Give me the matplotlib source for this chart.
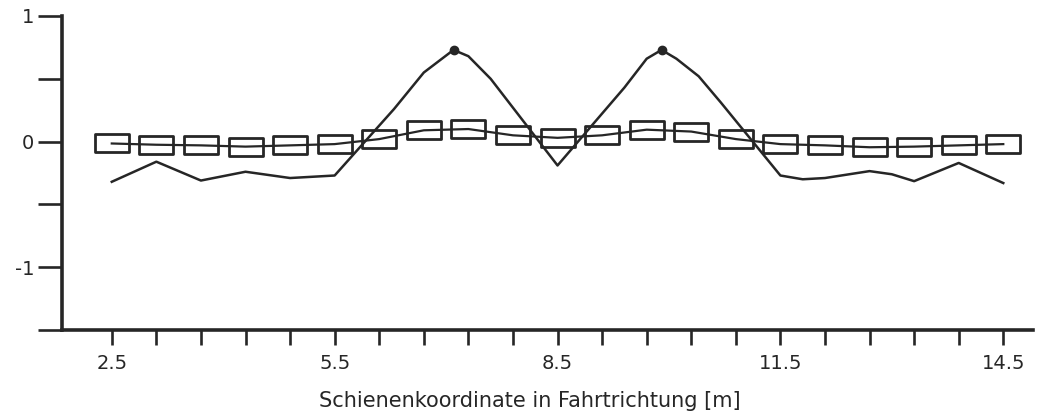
import numpy as np
import matplotlib
matplotlib.use("Agg")
import matplotlib.pyplot as plt
from matplotlib.path import Path

plt.rcParams['font.family'] = ['DejaVu Sans']

# Rail coordinate grid (m) of the boxed series
box_x = [2.5, 3.1, 3.7, 4.3, 4.9, 5.5, 6.1, 6.7, 7.3, 7.9, 8.5,
         9.1, 9.7, 10.3, 10.9, 11.5, 12.1, 12.7, 13.3, 13.9, 14.5]
box_y = [-0.015, -0.025, -0.03, -0.04, -0.03, -0.02, 0.02, 0.09, 0.10, 0.05, 0.03,
         0.05, 0.095, 0.08, 0.02, -0.02, -0.03, -0.045, -0.04, -0.03, -0.02]

# Profile line (vertices)
line_x = [2.5, 3.1, 3.7, 4.3, 4.9, 5.5, 6.3, 6.7, 7.1, 7.3, 7.6, 8.5,
          9.4, 9.7, 9.9, 10.1, 10.4, 10.7, 11.5, 11.8, 12.1, 12.7, 13.0,
          13.3, 13.9, 14.5]
line_y = [-0.32, -0.16, -0.31, -0.24, -0.29, -0.27, 0.26, 0.55, 0.73, 0.68, 0.50, -0.19,
          0.43, 0.66, 0.73, 0.66, 0.52, 0.31, -0.27, -0.30, -0.29, -0.235, -0.26,
          -0.315, -0.17, -0.33]
peak_idx = [8, 14]

x_ticks = [2.5, 3.1, 3.7, 4.3, 4.9, 5.5, 6.1, 6.7, 7.3, 7.9, 8.5,
           9.1, 9.7, 10.3, 10.9, 11.5, 12.1, 12.7, 13.3, 13.9, 14.5]
x_ticklabels = ['2.5', '', '', '', '', '5.5', '', '', '', '', '8.5',
                '', '', '', '', '11.5', '', '', '', '', '14.5']
y_ticks = [1, 0.5, 0, -0.5, -1, -1.5]
y_ticklabels = ['1', '', '0', '', '-1', '']
x_label = 'Schienenkoordinate in Fahrtrichtung [m]'

ink = '#262626'

fig = plt.figure(figsize=(10.38, 4.11), dpi=100)
ax = fig.add_axes([62 / 1038, 81 / 411, (1033 - 62) / 1038, (395 - 81) / 411])

# flat rectangular box marker
rect = Path([(-1, -0.55), (1, -0.55), (1, 0.55), (-1, 0.55), (-1, -0.55)],
            [Path.MOVETO, Path.LINETO, Path.LINETO, Path.LINETO, Path.CLOSEPOLY])

ax.plot(box_x, box_y, color=ink, lw=1.6, marker=rect, ms=24,
        mfc='none', mec=ink, mew=2.0, zorder=3)
ax.plot(line_x, line_y, color=ink, lw=1.8, marker='o', ms=6,
        markevery=peak_idx, mfc=ink, mec=ink, zorder=4)

ax.set_xlim(1.83, 14.9)
ax.set_ylim(-1.5, 1)

for s in ['top', 'right']:
    ax.spines[s].set_visible(False)
for s in ['left', 'bottom']:
    ax.spines[s].set_linewidth(2.6)
    ax.spines[s].set_color(ink)

ax.set_xticks(x_ticks)
ax.set_xticklabels(x_ticklabels)
ax.set_yticks(y_ticks)
ax.set_yticklabels(y_ticklabels)
ax.tick_params(axis='x', direction='out', length=11, width=1.9, color=ink,
               pad=6, labelsize=14, labelcolor=ink)
ax.tick_params(axis='y', direction='out', length=17, width=1.9, color=ink,
               pad=3, labelsize=14, labelcolor=ink)

fig.text(530 / 1038, 1 - 401 / 411, x_label, ha='center', va='center',
         fontsize=15, color=ink)

fig.savefig('out.png', dpi=100, facecolor='white')
